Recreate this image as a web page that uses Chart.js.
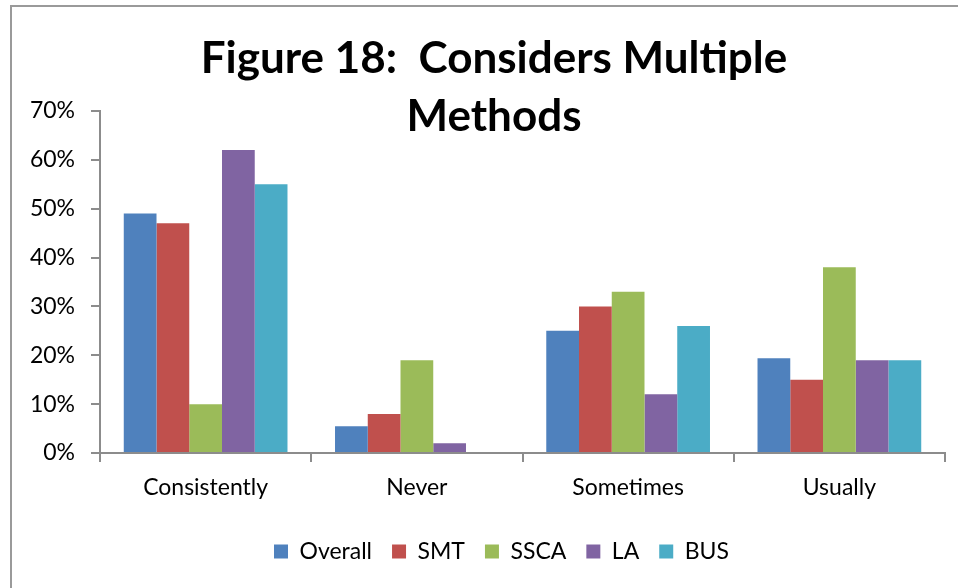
<!DOCTYPE html>
<html>
<head>
<meta charset="utf-8">
<script src="https://cdn.jsdelivr.net/npm/chart.js@4"></script>
<style>
  html, body { margin: 0; padding: 0; background: #fff; }
  #wrap { position: relative; width: 958px; height: 588px; overflow: hidden; }
  #frame { position: absolute; left: 10px; top: 5px; width: 1000px; height: 700px;
           border-left: 2px solid #9a9a9a; border-top: 2px solid #9a9a9a; }
  #chart { position: absolute; left: 0; top: 0; }
</style>
</head>
<body>
<div id="wrap">
  <div id="frame"></div>
  <canvas id="chart" width="958" height="588"></canvas>
</div>
<script>
// データ（%）
const categories = ['Consistently', 'Never', 'Sometimes', 'Usually'];
const overall = [49, 5.5, 25, 19.4];
const smt     = [47, 8, 30, 15];
const ssca    = [10, 19, 33, 38];
const la      = [62, 2, 12, 19];
const bus     = [55, 0, 26, 19];
const yTicks  = [0, 10, 20, 30, 40, 50, 60, 70];
const titleLines = ['Figure 18:  Considers Multiple', 'Methods'];

const axisColor = '#8c8c8c';
const fontName = 'Lato, "Open Sans", sans-serif';

// タイトルはプロット領域に重ねて描く
const titlePlugin = {
    id: 'overlapTitle',
    afterLayout(chart) {
        // 凡例を少し右へずらす
        if (chart.legend) {
            chart.legend.left += 29;
            chart.legend.right += 29;
        }
    },
    afterDraw(chart) {
        const ctx = chart.ctx;
        ctx.save();
        ctx.fillStyle = '#000';
        ctx.font = 'bold 44px ' + fontName;
        ctx.textAlign = 'center';
        ctx.textBaseline = 'alphabetic';
        ctx.fillText(titleLines[0], 494, 73);
        ctx.fillText(titleLines[1], 494, 131);
        ctx.restore();
    }
};

const chartConfig = {
    type: 'bar',
    data: {
        labels: categories,
        datasets: [
            { label: 'Overall', data: overall, backgroundColor: '#4F81BD' },
            { label: 'SMT',     data: smt,     backgroundColor: '#C0504D' },
            { label: 'SSCA',    data: ssca,    backgroundColor: '#9BBB59' },
            { label: 'LA',      data: la,      backgroundColor: '#8064A2' },
            { label: 'BUS',     data: bus,     backgroundColor: '#4BACC6' }
        ]
    },
    options: {
        responsive: false,
        animation: false,
        categoryPercentage: 0.775,
        barPercentage: 1.0,
        layout: { padding: { left: 0, right: 13, top: 111, bottom: 15 } },
        scales: {
            x: {
                grid: { display: true, drawOnChartArea: false, drawTicks: true, tickLength: 9,
                        color: axisColor, lineWidth: 2, offset: true },
                border: { display: true, color: axisColor, width: 2 },
                ticks: { color: '#000', font: { family: fontName, size: 23 }, padding: 12 },
                afterFit: function(scale) { scale.height = 67; }
            },
            y: {
                min: 0,
                max: 70,
                afterBuildTicks: function(scale) {
                    scale.ticks = yTicks.map(v => ({ value: v }));
                },
                grid: { display: true, drawOnChartArea: false, drawTicks: true, tickLength: 9,
                        color: axisColor, lineWidth: 2 },
                border: { display: true, color: axisColor, width: 2 },
                ticks: {
                    color: '#000',
                    font: { family: fontName, size: 23 },
                    padding: 16,
                    callback: function(value) { return value + '%'; }
                },
                afterFit: function(scale) { scale.width = 100; }
            }
        },
        plugins: {
            title: { display: false },
            tooltip: { enabled: false },
            legend: {
                position: 'bottom',
                labels: {
                    color: '#000',
                    font: { family: fontName, size: 23 },
                    boxWidth: 14,
                    boxHeight: 14,
                    padding: 20
                }
            }
        }
    },
    plugins: [titlePlugin]
};

const coinChart = new Chart(document.getElementById('chart'), chartConfig);
</script>
</body>
</html>
